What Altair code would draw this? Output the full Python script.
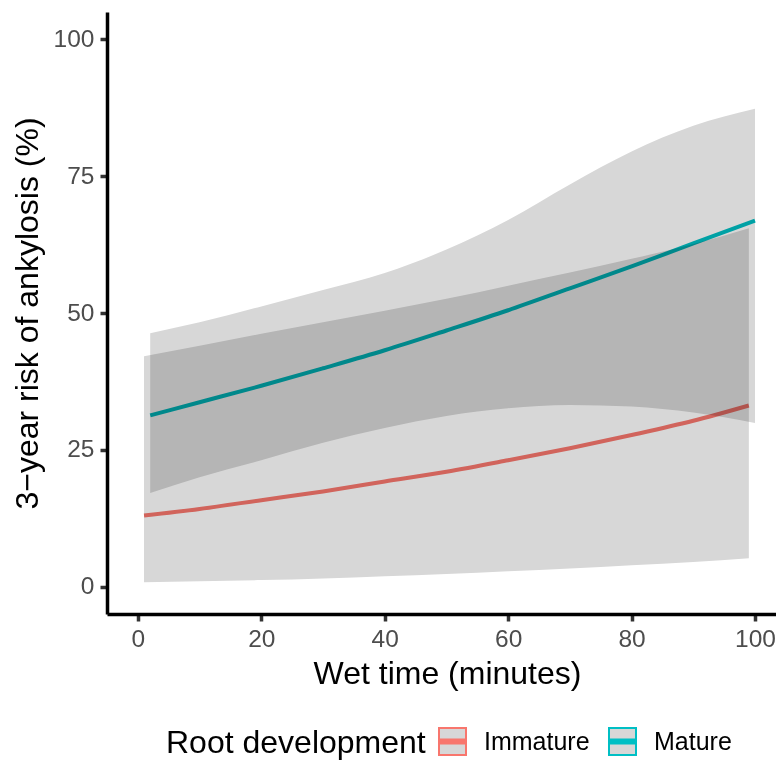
import altair as alt
import pandas as pd

# Immature root development (fitted risk and 95% band), x = wet time (minutes)
imm_x = [1, 10, 20, 30, 40, 50, 60, 70, 80, 90, 99]
imm_fit = [13.0, 14.2, 15.8, 17.4, 19.2, 21.0, 23.1, 25.3, 27.7, 30.3, 33.1]
imm_lo = [0.8, 1.0, 1.2, 1.5, 1.9, 2.3, 2.8, 3.3, 3.9, 4.5, 5.2]
imm_hi = [42.1, 44.0, 46.2, 48.3, 50.4, 52.6, 55.0, 57.4, 59.9, 62.6, 65.5]

# Mature root development
mat_x = [2, 10, 20, 30, 40, 50, 60, 70, 80, 90, 100]
mat_fit = [31.3, 33.7, 36.7, 39.9, 43.2, 46.8, 50.5, 54.5, 58.5, 62.7, 66.9]
mat_lo = [17.1, 20.0, 23.1, 26.3, 29.0, 31.2, 32.6, 33.2, 32.9, 31.8, 29.9]
mat_hi = [46.3, 48.3, 51.2, 54.2, 57.3, 61.6, 67.0, 73.5, 79.5, 84.2, 87.3]

groups = ["Immature", "Mature"]
colors = ["#F8766D", "#00BFC4"]
x_ticks = [0, 20, 40, 60, 80, 100]
y_ticks = [0, 25, 50, 75, 100]

df = pd.concat([
    pd.DataFrame({"x": imm_x, "fit": imm_fit, "lo": imm_lo, "hi": imm_hi, "group": groups[0]}),
    pd.DataFrame({"x": mat_x, "fit": mat_fit, "lo": mat_lo, "hi": mat_hi, "group": groups[1]}),
], ignore_index=True)

FONT = "Liberation Sans"
XT = "Wet time (minutes)"
YT = "3\u2212year risk of ankylosis (%)"

xscale = alt.Scale(domain=[-5, 103.4], nice=False, zero=False)
yscale = alt.Scale(domain=[-5, 105], nice=False, zero=False)

legend_symbol = "M-1,-1H1V1H-1Z M-1,-0.14H1 M-1,0H1 M-1,0.14H1"

lines = alt.Chart(df).mark_line(strokeWidth=4, interpolate="monotone").encode(
    x=alt.X("x:Q", scale=xscale, title=XT, axis=alt.Axis(values=x_ticks, titleX=340)),
    y=alt.Y("fit:Q", scale=yscale, title=YT, axis=alt.Axis(values=y_ticks)),
    color=alt.Color(
        "group:N",
        scale=alt.Scale(domain=groups, range=colors),
        legend=alt.Legend(
            title="Root development",
            orient="none",
            legendX=59,
            legendY=715,
            direction="horizontal",
            titleOrient="left",
            titleFontSize=32,
            titleFont=FONT,
            titleFontWeight="normal",
            titleColor="black",
            titlePadding=12,
            titleLimit=600,
            labelFontSize=25,
            labelFont=FONT,
            labelColor="black",
            labelOffset=17,
            labelLimit=300,
            columnPadding=15,
            symbolType=legend_symbol,
            symbolSize=729,
            symbolStrokeWidth=2,
            symbolFillColor="#D7D7D7",
            symbolOpacity=1,
        ),
    ),
)

ribbons = alt.Chart(df).mark_area(
    color="#D7D7D7", opacity=1, blend="multiply", interpolate="monotone"
).encode(
    x=alt.X("x:Q", scale=xscale, title=XT),
    y=alt.Y("lo:Q", scale=yscale, title=YT),
    y2="hi:Q",
    detail="group:N",
)

chart = alt.layer(lines, ribbons).properties(
    width=669,
    height=602,
    autosize=alt.AutoSizeParams(type="none"),
    padding={"left": 99, "top": 4, "right": 0, "bottom": 149},
).configure_view(stroke=None).configure_axis(
    grid=False,
    domainColor="black",
    domainWidth=3.5,
    tickColor="#333333",
    tickWidth=3.5,
    tickSize=7,
    labelFont=FONT,
    labelFontSize=24.5,
    labelColor="#4D4D4D",
    labelPadding=6,
    titleFont=FONT,
    titleFontSize=32,
    titleFontWeight="normal",
    titleColor="black",
).configure_axisY(titlePadding=9).configure_axisX(titlePadding=8)

chart.save("out.html", embed_options={"renderer": "svg", "actions": False})
